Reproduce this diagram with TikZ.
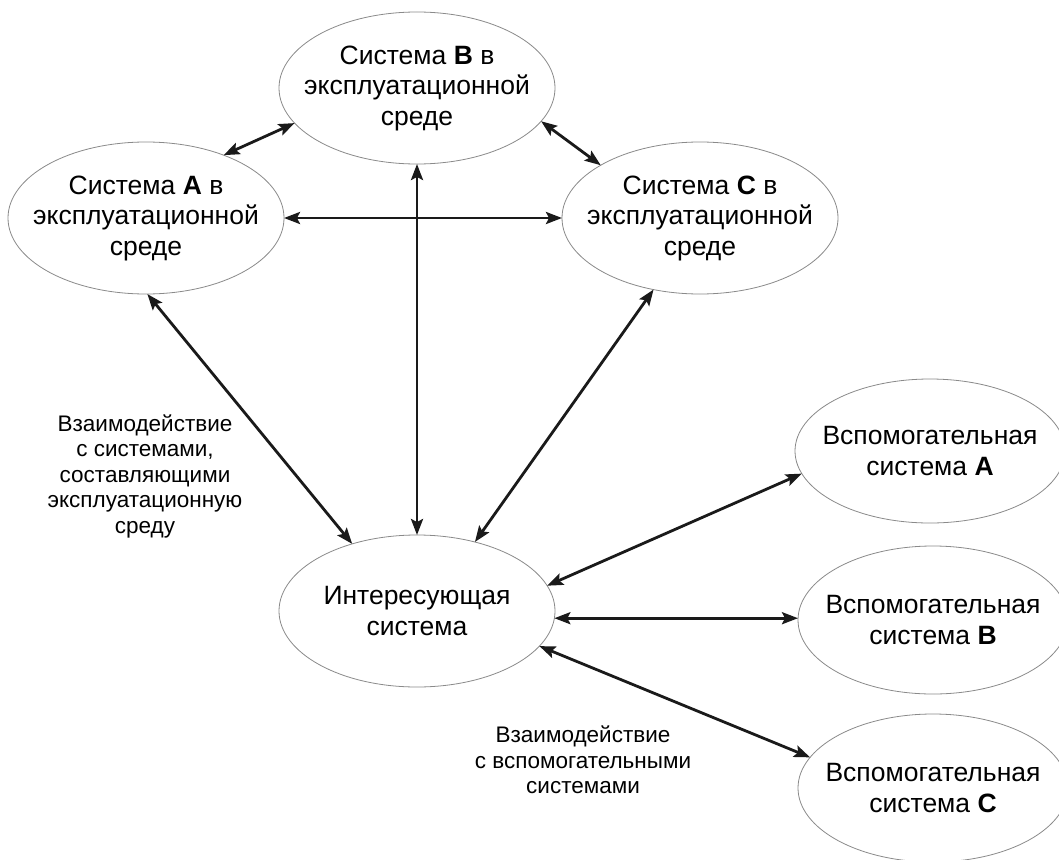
\documentclass[tikz,border=0pt]{standalone}
\usepackage{fontspec}
\setmainfont{Liberation Sans}
\usetikzlibrary{shapes.geometric,arrows.meta}
\definecolor{ellgray}{HTML}{8A8A8A}
\definecolor{linkgray}{HTML}{1A1A1A}
\begin{document}
\begin{tikzpicture}[x=1pt,y=-1pt,
  sys/.style={ellipse, draw=ellgray, line width=0.8pt, fill=white,
    minimum width=276pt, minimum height=152pt, inner xsep=-22pt, inner ysep=0pt, outer sep=0pt,
    align=center, text=black, font=\fontsize{26.5}{30.5}\selectfont},
  aux/.style={sys, minimum width=270pt, minimum height=148pt},
  link/.style={line width=2.8pt, draw=linkgray,
    >={Stealth[length=16pt,width=12pt,inset=3pt]}, <->},
  note/.style={align=center, text=black, font=\fontsize{22.5}{25.5}\selectfont}]
\useasboundingbox (0,0) rectangle (1059,859);

% environment systems and the system of interest
\node[sys] (B) at (417,88) {Система \textbf{B} в\\эксплуатационной\\среде};
\node[sys] (A) at (146,218) {Система \textbf{A} в\\эксплуатационной\\среде};
\node[sys] (C) at (700,218) {Система \textbf{C} в\\эксплуатационной\\среде};
\node[sys] (I) at (417,611) {Интересующая\\система};

% enabling systems
\node[aux, minimum height=144pt] (SA) at (930,451) {Вспомогательная\\система \textbf{A}};
\node[aux] (SB) at (933,620) {Вспомогательная\\система \textbf{B}};
\node[aux] (SC) at (933,788) {Вспомогательная\\система \textbf{C}};

% captions
\node[note] (envnote) at (145,476) {Взаимодействие\\с системами,\\составляющими\\эксплуатационную\\среду};
\node[note] (auxnote) at (583,760) {Взаимодействие\\с вспомогательными\\системами};

% links between environment systems
\draw[link] (A.39.7) -- (B.196.7);
\draw[link] (B.-15.3) -- (C.152.5);
\draw[link] (A.east) -- (C.west);

% links to the system of interest
\draw[link] (B.south) -- (I.north);
\draw[link] (A.-89) -- (I.134);
\draw[link] (C.-123) -- (I.50);

% links to enabling systems
\draw[link] (I.11.4) -- (SA.190.9);
\draw[link] (I.-3.5) -- (I.-3.5 -| SB.west);
\draw[link] (I.-16.2) -- (SC.166.8);
\end{tikzpicture}
\end{document}
